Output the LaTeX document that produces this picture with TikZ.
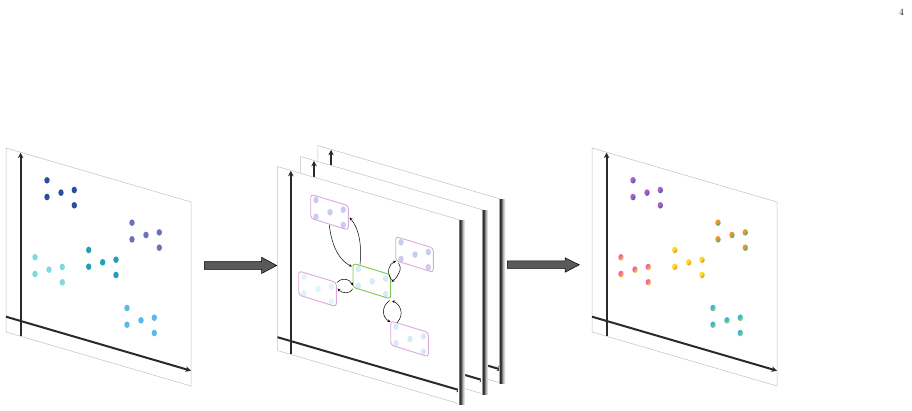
\documentclass[tikz,border=0pt]{standalone}
\usetikzlibrary{arrows.meta}
\definecolor{framegray}{HTML}{C2C2C2}
\definecolor{axisgray}{HTML}{2A2A2A}
\definecolor{cA}{HTML}{2B4F9E}
\definecolor{cB}{HTML}{6A72BC}
\definecolor{cC}{HTML}{80D8E0}
\definecolor{cD}{HTML}{20A0B8}
\definecolor{cE}{HTML}{5AB8EA}
\definecolor{pinkbox}{HTML}{DCA8DC}
\definecolor{greenbox}{HTML}{80C850}
\definecolor{mA}{HTML}{C9CBEF}
\definecolor{mC}{HTML}{DEF5FA}
\definecolor{mD}{HTML}{D3ECF8}
\definecolor{mE}{HTML}{D7EAF9}
\definecolor{blockfill}{HTML}{595959}
\colorlet{gL}{red}
\colorlet{gR}{blue}
\pgfdeclarehorizontalshading{edgeshade}{100bp}{color(0bp)=(gray!40); color(25bp)=(gray!40); color(32bp)=(black!85); color(42bp)=(black!75); color(58bp)=(gray!55); color(75bp)=(white); color(100bp)=(white)}
\pgfdeclarehorizontalshading[gL,gR]{dotgrad}{100bp}{color(0bp)=(gL); color(43bp)=(gL); color(57bp)=(gR); color(100bp)=(gR)}
\newcommand\clusterdots[3]{%
  \foreach \dx/\dy in {0/0,0/16.7,14/12.3,27.3/9.7,27.3/25}
    \path[#1] ({#2+\dx},{#3+\dy}) ellipse [x radius=2.7, y radius=3.3];}
\newcommand\gradcluster[4]{%
  \definecolor{gL}{HTML}{#1}\definecolor{gR}{HTML}{#2}%
  \clusterdots{shading=dotgrad, shading angle=-40}{#3}{#4}}
\newcommand\clusterbox[3]{%
  \draw[#1, rounded corners=3pt] ({#2-5.3},{#3-5.7}) -- ({#2+32.3},{#3+5.7}) -- ({#2+32.3},{#3+30}) -- ({#2-5.3},{#3+18.3}) -- cycle;}
\tikzset{
  frameline/.style={draw=framegray, line width=0.5pt},
  axisline/.style={draw=axisgray, line width=2pt, -{Stealth[length=5.5pt,width=5.5pt]}},
  panelpic/.pic={
    \path[fill=white, frameline] (0,0) -- (185,54) -- (185,238) -- (0,184) -- cycle;
    \draw[axisline] (14.6,188.3) -- (14.6,4.7);
    \draw[axisline] (0,168.7) -- (185,222.7);
  },
  stackpic/.pic={
    \path[fill=white, frameline] (0,0) -- (184.2,54) -- (184.2,238) -- (0,184) -- cycle;
    \draw[axisline] (13.3,187.9) -- (13.3,4.3);
    \draw[axisline] (0,170.7) -- (184.8,224.5);
    \shade[shading=edgeshade] (181,54.5) rectangle (187.5,238);
  },
  conn/.style={draw=black, line width=0.5pt, -{Stealth[length=3pt,width=2.6pt]}},
  block/.style={fill=blockfill, draw=black, line width=0.5pt}
}
\begin{document}
\begin{tikzpicture}[x=1pt, y=-1pt]
\useasboundingbox[fill=white] (0,0) rectangle (912,411);

\node[font=\fontsize{9.5}{10}\selectfont, inner sep=0pt] (pagenum) at (901.5,12) {4};

% ---------- left panel ----------
\pic at (6,148) {panelpic};
\clusterdots{fill=cA}{47}{180.3}
\clusterdots{fill=cB}{132}{222.7}
\clusterdots{fill=cC}{35}{257.3}
\clusterdots{fill=cD}{88.7}{250}
\clusterdots{fill=cE}{127}{308}

% ---------- block arrow 1 ----------
\path[block] (204.3,261.7) -- (261.7,261.7) -- (261.7,257.3) -- (276.7,265.5)
  -- (261.7,273.5) -- (261.7,269.3) -- (204.3,269.3) -- cycle;

% ---------- middle stack ----------
\pic at (317.8,145.5) {stackpic};
\pic at (300.7,156.5) {stackpic};
\pic at (277.5,166.5) {stackpic};

\clusterdots{fill=mA}{316}{200}
\clusterdots{fill=mA}{401}{242.3}
\clusterdots{fill=mC}{304}{276.7}
\clusterdots{fill=mD}{358.3}{269}
\clusterdots{fill=mE}{396}{326.7}
\clusterbox{draw=pinkbox, line width=0.9pt}{316}{200}
\clusterbox{draw=pinkbox, line width=0.9pt}{401}{242.3}
\clusterbox{draw=pinkbox, line width=0.9pt}{304}{276.7}
\clusterbox{draw=greenbox, line width=0.9pt}{358.3}{269}
\clusterbox{draw=pinkbox, line width=0.9pt}{396}{326.7}

% connection points
\coordinate (b1bot) at (329.3,225);
\coordinate (b1rt) at (349.5,217.5);
\coordinate (b4tl) at (352,266.5);
\coordinate (b4top) at (360,264.5);
\coordinate (b4r1) at (391.5,280);
\coordinate (b4r2) at (391.5,281.8);
\coordinate (b2bl1) at (396,261);
\coordinate (b2bl2) at (398.5,262.8);
\coordinate (b3r1) at (337,282.5);
\coordinate (b3r2) at (337.5,288.5);
\coordinate (b4l1) at (352.8,285.5);
\coordinate (b4l2) at (352.8,288.8);
\coordinate (b4b1) at (389.5,300.5);
\coordinate (b4b2) at (392,300.8);
\coordinate (b5t1) at (390.5,322);
\coordinate (b5t2) at (397,322.8);

\draw[conn] (b1bot) .. controls (332,250) and (342,262) .. (b4tl);
\draw[conn] (b4top) .. controls (362,245) and (359,228) .. (b1rt);
\draw[conn] (b4r1) .. controls (386,272) and (389,264) .. (b2bl1);
\draw[conn] (b2bl2) .. controls (403,268) and (398,277) .. (b4r2);
\draw[conn] (b3r1) .. controls (343,276.5) and (350,279.5) .. (b4l1);
\draw[conn] (b4l2) .. controls (350,294.5) and (342,293.5) .. (b3r2);
\draw[conn] (b4b1) .. controls (380,308) and (383,318) .. (b5t1);
\draw[conn] (b5t2) .. controls (405,314) and (400,304) .. (b4b2);

% ---------- block arrow 2 ----------
\path[block] (507.3,261) -- (565,261) -- (565,257.7) -- (579.3,264.8)
  -- (565,272.3) -- (565,268.4) -- (507.3,268.4) -- cycle;

% ---------- right panel ----------
\pic at (592,148) {panelpic};
\gradcluster{B65CC2}{5A62B4}{633}{180.3}
\gradcluster{F5921E}{4FB592}{718}{222.7}
\gradcluster{F464AC}{F9B633}{621}{257.3}
\gradcluster{F5E02A}{F0A030}{674.7}{250}
\gradcluster{3DB7E4}{86C85E}{713}{308}
\end{tikzpicture}
\end{document}
